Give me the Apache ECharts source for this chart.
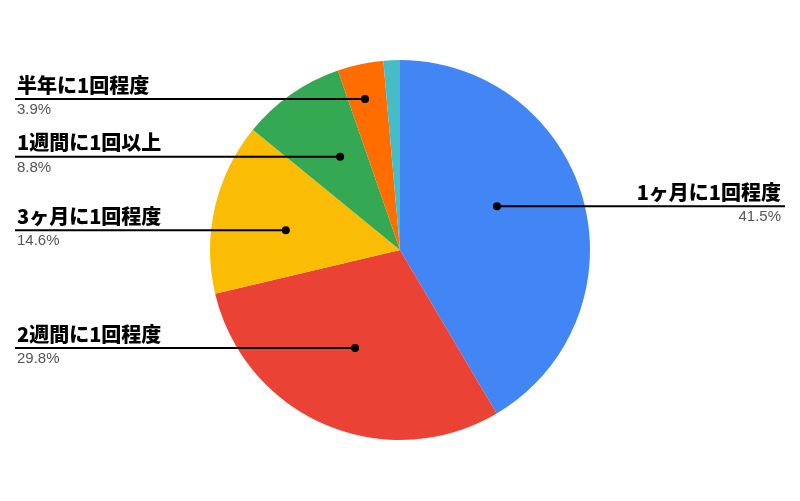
<!DOCTYPE html>
<html>
<head>
<meta charset="utf-8">
<style>
  html, body { margin: 0; padding: 0; background: #fff; }
  #chart { width: 800px; height: 501px; }
</style>
<script src="https://cdn.jsdelivr.net/npm/echarts@6/dist/echarts.min.js"></script>
</head>
<body>
<div id="chart"></div>
<script>
// Visit frequency shares (percent of respondents)
const categories = ['1ヶ月に1回程度', '2週間に1回程度', '3ヶ月に1回程度', '1週間に1回以上', '半年に1回程度', 'その他'];
const shares = [41.5, 29.8, 14.6, 8.8, 3.9, 1.4];
const showLabel = [true, true, true, true, true, false];

const sliceColors = ['#4285F4', '#EA4335', '#FBBC04', '#34A853', '#FF6D01', '#46BDC6'];
// where the callout dot sits inside its slice:
// depth = fraction of the radius, sweep = fraction of the slice's angular span
const anchorDepth = [0.56, 0.567, 0.61, 0.583, 0.816, 0.6];
const anchorSweep = [0.44, 0.515, 0.44, 0.57, 0.43, 0.5];

const CX = 400, CY = 250, R = 190;
const EDGE_MARGIN = 15;

const total = shares.reduce((a, b) => a + b, 0);
// angular position of each dot, in data units along the angle axis
const anchorValues = [];
let acc = 0;
shares.forEach((v, i) => { anchorValues.push(acc + v * anchorSweep[i]); acc += v; });

// one callout per labelled slice: [depth, angle position, slice index]
const callouts = [];
shares.forEach((v, i) => { if (showLabel[i]) callouts.push([anchorDepth[i], anchorValues[i], i]); });

const NAME_FONT = '900 20px "Noto Sans CJK JP", "Noto Sans", sans-serif';
const PCT_FONT = '15px "Liberation Sans", Arial, sans-serif';

function renderCallout(params, api) {
  const i = api.value(2);
  const pt = api.coord([api.value(0), api.value(1)]);
  const isLeft = pt[0] < CX;
  const edge = isLeft ? EDGE_MARGIN : api.getWidth() - EDGE_MARGIN;
  const textX = isLeft ? edge + 2 : edge - 4;
  const align = isLeft ? 'left' : 'right';
  return {
    type: 'group',
    children: [
      {
        type: 'line',
        shape: { x1: pt[0], y1: pt[1], x2: edge, y2: pt[1] },
        style: { stroke: '#000', lineWidth: 2 }
      },
      {
        type: 'circle',
        shape: { cx: pt[0], cy: pt[1], r: 4 },
        style: { fill: '#000' }
      },
      {
        type: 'text',
        style: {
          text: categories[i], x: textX, y: pt[1] - 14,
          font: NAME_FONT, fill: '#000', align: align, verticalAlign: 'middle'
        }
      },
      {
        type: 'text',
        style: {
          text: shares[i].toFixed(1) + '%', x: textX, y: pt[1] + 11,
          font: PCT_FONT, fill: '#555', align: align, verticalAlign: 'middle'
        }
      }
    ]
  };
}

const chart = echarts.init(document.getElementById('chart'), null, { renderer: 'canvas' });

chart.setOption({
  animation: false,
  backgroundColor: '#ffffff',
  polar: { center: [CX, CY], radius: R },
  angleAxis: {
    type: 'value', min: 0, max: total, startAngle: 90, clockwise: true,
    show: false
  },
  radiusAxis: { type: 'value', min: 0, max: 1, show: false },
  series: [
    {
      type: 'pie',
      center: [CX, CY],
      radius: [0, R],
      startAngle: 90,
      clockwise: true,
      emphasis: { disabled: true },
      itemStyle: { borderWidth: 0 },
      label: { show: false },
      labelLine: { show: false },
      data: categories.map((name, i) => ({
        name: name,
        value: shares[i],
        itemStyle: { color: sliceColors[i] }
      }))
    },
    {
      type: 'custom',
      coordinateSystem: 'polar',
      silent: true,
      z: 5,
      renderItem: renderCallout,
      data: callouts
    }
  ]
});
</script>
</body>
</html>
